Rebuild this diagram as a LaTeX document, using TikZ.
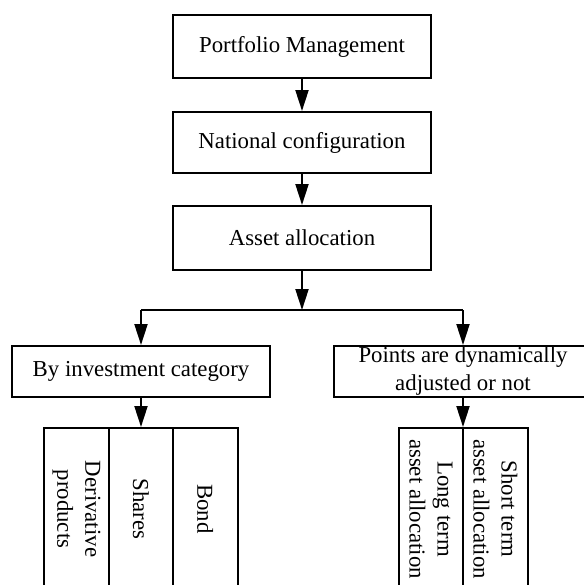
\documentclass[tikz,border=0pt]{standalone}
\usepackage{fontspec}
\setmainfont{Liberation Serif}
\usetikzlibrary{arrows.meta}

\begin{document}
\begin{tikzpicture}[x=0.5pt,y=-0.5pt,
  box/.style={draw,line width=1pt,minimum width=129pt,inner sep=0.5pt,align=center,font=\fontsize{11.4}{14}\selectfont},
  col/.style={draw,line width=1pt,minimum width=81pt,minimum height=32.25pt,inner sep=0.5pt,rotate=-90,align=center,font=\fontsize{11.4}{14}\selectfont},
  arr/.style={-{Triangle[length=10.5pt,width=6.5pt]},line width=1pt}]
\clip (0,0) rectangle (584,585);
%top chain
\node[box,minimum height=31.5pt] (pm) at (302,46.5) {Portfolio Management};
\node[box,minimum height=30.5pt] (nc) at (302,142.5) {National configuration};
\node[box,minimum height=32pt] (aa) at (302,238) {Asset allocation};
\draw[arr] (pm) -- (nc);
\draw[arr] (nc) -- (aa);
%split
\node[box,minimum height=25.5pt] (cat) at (141,371.5) {By investment category};
\node[box,minimum height=25.5pt] (dyn) at (463,371.5) {Points are dynamically\\adjusted or not};
\coordinate (fork) at (302,310);
\draw[arr] (aa) -- (fork);
\draw[line width=1pt] (cat.north |- fork) -- (dyn.north |- fork);
\draw[arr] (cat.north |- fork) -- (cat);
\draw[arr] (dyn.north |- fork) -- (dyn);
%by category
\node[col] (deriv) at (76.5,509) {Derivative\\products};
\node[col] (shares) at (141,509) {Shares};
\node[col] (bond) at (205.25,509) {Bond};
\draw[arr] (cat) -- (shares);
%by term
\node[col] (longt) at (431,509) {Long term\\asset allocation};
\node[col] (shortt) at (495.5,509) {Short term\\asset allocation};
\draw[arr] (dyn.south) -- (dyn.south |- longt.west);
\end{tikzpicture}
\end{document}
